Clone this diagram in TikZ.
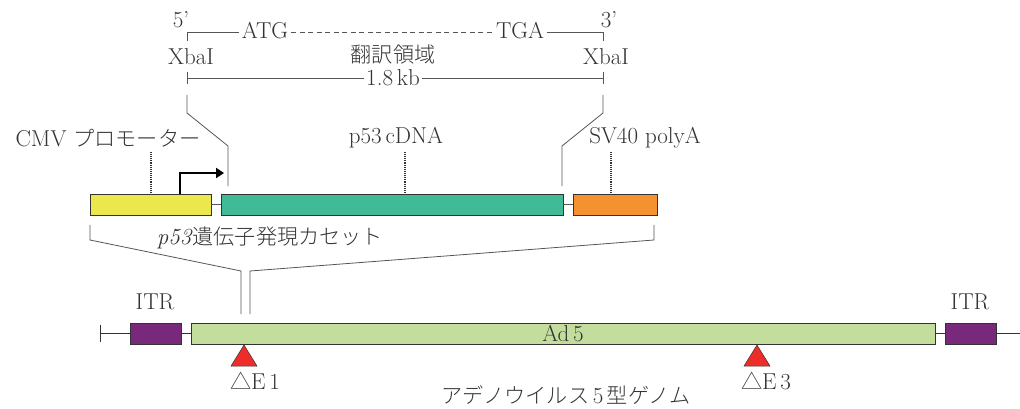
\documentclass[tikz,border=0pt]{standalone}
\usepackage{fontspec}
\newfontfamily\jp{Noto Sans CJK JP}[UprightFont={* Light}, Scale=0.92]
\usetikzlibrary{arrows.meta}
\definecolor{txt}{HTML}{333333}
\definecolor{lgray}{HTML}{555555}
\definecolor{cmvY}{HTML}{EAE84C}
\definecolor{cdnaG}{HTML}{40BB95}
\definecolor{svO}{HTML}{F49232}
\definecolor{adG}{HTML}{C3DD9D}
\definecolor{itrP}{HTML}{79297B}
\definecolor{delR}{HTML}{EE2D2B}
\begin{document}
\begin{tikzpicture}[x=1pt,y=-1pt,
  lbl/.style={font=\fontsize{23}{26}\selectfont, text=txt, inner sep=0pt},
  boxn/.style={draw=txt, line width=0.8pt, inner sep=0pt, outer sep=0pt, anchor=north west},
  conn/.style={draw=lgray, line width=0.8pt},
  dots/.style={draw=txt, densely dotted, line width=1.1pt},
  tri/.style={draw=txt, fill=delR, line width=0.5pt}]
\useasboundingbox (0,0) rectangle (1020,409);
% top region
\node[lbl] (p5) at (181,20) {5'};
\node[lbl] (p3) at (609,20) {3'};
\node[lbl, inner xsep=3pt] (atg) at (265,31) {ATG};
\node[lbl, inner xsep=3pt] (tga) at (520,31) {TGA};
\coordinate (tl) at (187,32);
\coordinate (tr) at (603,32);
\draw[conn] (187,41) -- (tl) -- (atg.west |- tl);
\draw[conn, dash pattern=on 5pt off 3.5pt] (atg.east |- tl) -- (tga.west |- tl);
\draw[conn] (tga.east |- tl) -- (tr) -- (603,41);
\node[lbl] (xl) at (191,57) {XbaI};
\node[lbl] (xr) at (606,57) {XbaI};
\node[lbl] (honyaku) at (393,55) {\jp 翻訳領域};
\node[lbl, fill=white, inner xsep=2pt] (kb) at (393,78) {1.8\,kb};
\coordinate (kl) at (187,78);
\coordinate (kr) at (603,78);
\draw[conn] (kl) -- (kb.west |- kl);
\draw[conn] (kb.east |- kl) -- (kr);
\draw[conn] (187,72) -- (187,84);
\draw[conn] (603,72) -- (603,84);
% insert lines
\draw[conn] (187,95) -- (187,113) -- (228,146) -- (228,186);
\draw[conn] (603,95) -- (603,113) -- (562,146) -- (562,186);
% labels
\node[lbl] (cmvlbl) at (108,138) {CMV {\jp プロモーター}};
\node[lbl] (cdnalbl) at (396,138) {p53\,cDNA};
\node[lbl] (svlbl) at (645,138) {SV40 polyA};
% boxes
\node[boxn, fill=cmvY, minimum width=121pt, minimum height=21pt] (cmv) at (90,194) {};
\node[boxn, fill=cdnaG, minimum width=342pt, minimum height=21pt] (cdna) at (221,194) {};
\node[boxn, fill=svO, minimum width=84pt, minimum height=21pt] (sv) at (573,194) {};
\draw[conn] (cmv.east) -- (cdna.west);
\draw[conn] (cdna.east) -- (sv.west);
\draw[dots] (151,152) -- (151,194);
\draw[dots] (405,152) -- (405,194);
\draw[dots] (611,152) -- (611,194);
% promoter arrow
\coordinate (tss) at (180,194);
\coordinate (tssend) at (224,173);
\draw[line width=2.3pt, -{Triangle[length=8pt,width=10pt]}] (tss) |- (tssend);
% cassette bracket
\node[lbl] (cas) at (270,238) {\textit{p53}\jp 遺伝子発現カセット};
\draw[conn] (90,225) -- (90,240) -- (241,271) -- (241,314);
\draw[conn] (654,225) -- (654,240) -- (250,271) -- (250,314);
% genome
\coordinate (gl) at (100,333.5);
\coordinate (gr) at (1020,333.5);
\draw[draw=txt, line width=0.8pt] (gl) -- (gr);
\draw[draw=txt, line width=0.8pt] (100,325) -- (100,342);
\node[boxn, fill=itrP, minimum width=51pt, minimum height=21pt] (itrl) at (130,323) {};
\node[boxn, fill=adG, minimum width=744pt, minimum height=21pt] (ad) at (191,323) {};
\node[boxn, fill=itrP, minimum width=51pt, minimum height=21pt] (itrr) at (945,323) {};
\node[lbl] at (ad.center) {Ad\,5};
\node[lbl] (itrllbl) at (155,302) {ITR};
\node[lbl] (itrrlbl) at (970,302) {ITR};
\draw[tri] (231,366) -- (244,345) -- (257,366) -- cycle;
\draw[tri] (744,366) -- (757,345) -- (770,366) -- cycle;
\node[lbl] (e1) at (255,381) {{\jp △}E\,1};
\node[lbl] (e3) at (766,381) {{\jp △}E\,3};
\node[lbl] (genome) at (566,395) {\jp アデノウイルス\,{\rmfamily 5}\,型ゲノム};
\end{tikzpicture}
\end{document}
